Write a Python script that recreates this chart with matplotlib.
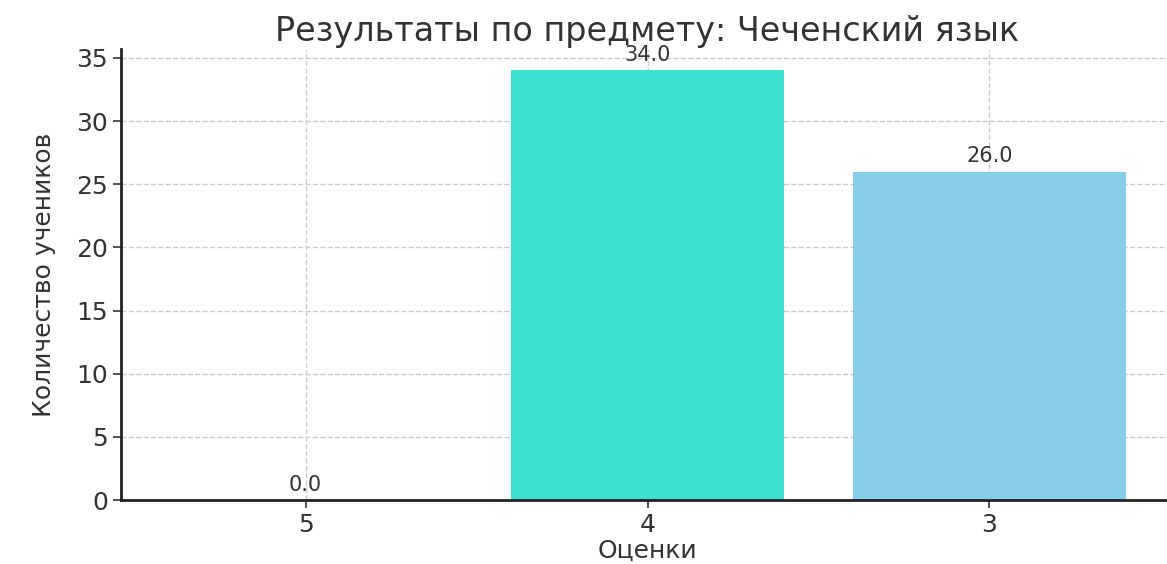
import matplotlib.pyplot as plt

grades = ["5", "4", "3"]
counts = [0.0, 34.0, 26.0]
colors = ["#FFD700", "#40E0D0", "#87CEEB"]

plt.rcParams['font.family'] = ['DejaVu Sans']
text_color = '#333333'

fig = plt.figure(figsize=(11.67, 5.64), dpi=100)
ax = fig.add_axes([121 / 1167, 64 / 564, 1053 / 1167, 451 / 564])

bars = ax.bar(grades, counts, color=colors, width=0.8, zorder=2)

# подписи над столбцами
for b, v in zip(bars, counts):
    ax.text(b.get_x() + b.get_width() / 2, v + 0.4, f'{v:.1f}',
            ha='center', va='bottom', fontsize=15, color=text_color, zorder=3)

ax.set_title('Результаты по предмету: Чеченский язык', fontsize=24, color=text_color, pad=6)
ax.set_xlabel('Оценки', fontsize=18, color=text_color, labelpad=1)
ax.set_ylabel('Количество учеников', fontsize=18, color=text_color, labelpad=14)

ax.set_ylim(0, 35.7)
ax.set_yticks([0, 5, 10, 15, 20, 25, 30, 35])
ax.tick_params(axis='both', labelsize=18, colors=text_color, length=6, width=1.2)
ax.grid(True, linestyle='--', color='#cccccc', linewidth=1, zorder=0)

for s in ['top', 'right']:
    ax.spines[s].set_visible(False)
for s in ['left', 'bottom']:
    ax.spines[s].set_linewidth(2)
    ax.spines[s].set_color('#222222')

fig.savefig('out.png', dpi=100, facecolor='white')
